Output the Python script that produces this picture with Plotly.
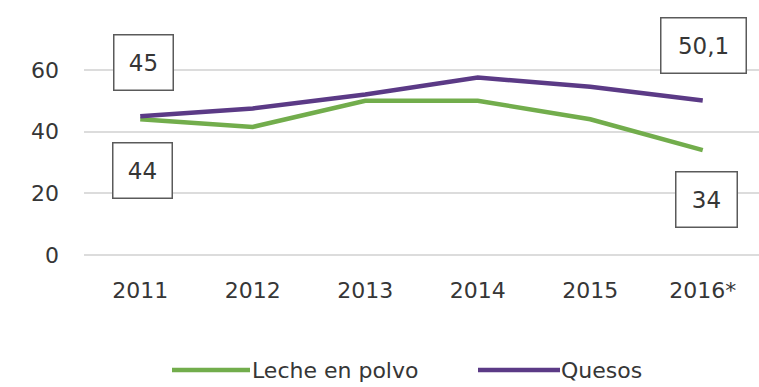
import plotly.graph_objects as go

# Data
years = ["2011", "2012", "2013", "2014", "2015", "2016*"]
leche_en_polvo = [44, 41.5, 50, 50, 44, 34]
quesos = [45, 47.5, 52, 57.5, 54.5, 50.1]
series_names = ["Leche en polvo", "Quesos"]
series_colors = ["#72ad4c", "#5b3a86"]
y_ticks = [0, 20, 40, 60]

W, H = 759, 387
M_L, M_R, M_T, M_B = 84, 0, 39, 132
TEXT = "#363636"
FONT = "DejaVu Sans"


def label(v):
    return f"{v:g}".replace(".", ",")


def px_x(px):
    return (px - M_L) / (W - M_L - M_R)


def px_y(py):
    return (H - M_B - py) / (H - M_T - M_B)


fig = go.Figure()
for name, vals, col in zip(series_names, [leche_en_polvo, quesos], series_colors):
    fig.add_trace(go.Scatter(
        x=years, y=vals, name=name, mode="lines",
        line=dict(color=col, width=4.5), showlegend=False,
    ))

# Boxed value labels at first and last year (x given as category index)
first, last = 0, len(years) - 1
box = dict(showarrow=False, bordercolor="#5a5a5a", borderwidth=1.5,
           borderpad=2, bgcolor="white", height=50,
           font=dict(family=FONT, size=23, color=TEXT))
annotations = [
    dict(x=first, y=quesos[first], text=label(quesos[first]), yshift=54, xshift=3, width=54, **box),
    dict(x=first, y=leche_en_polvo[first], text=label(leche_en_polvo[first]), yshift=-51, xshift=2, width=54, **box),
    dict(x=last, y=quesos[last], text=label(quesos[last]), yshift=55, xshift=1, width=80, **box),
    dict(x=last, y=leche_en_polvo[last], text=label(leche_en_polvo[last]), yshift=-49, xshift=4, width=56, **box),
]

# Legend drawn below the axis
shapes = []
legend_items = [(172, 250, 250), (478, 560, 559)]
for (x0, x1, tx), name, col in zip(legend_items, series_names, series_colors):
    shapes.append(dict(type="line", xref="paper", yref="paper",
                       x0=px_x(x0), x1=px_x(x1), y0=px_y(370), y1=px_y(370),
                       line=dict(color=col, width=4.5)))
    annotations.append(dict(xref="paper", yref="paper", x=px_x(tx), y=px_y(370),
                            xanchor="left", yanchor="middle", showarrow=False,
                            text=name, font=dict(family=FONT, size=22, color=TEXT)))

fig.update_layout(
    width=W, height=H,
    margin=dict(l=M_L, r=M_R, t=M_T, b=M_B),
    paper_bgcolor="white", plot_bgcolor="white",
    annotations=annotations, shapes=shapes,
    showlegend=False,
)
fig.update_xaxes(
    type="category", range=[-0.5, 5.5], showgrid=False, showline=False,
    ticks="", ticklabelstandoff=20,
    tickfont=dict(family=FONT, size=22, color=TEXT),
)
fig.update_yaxes(
    range=[0, 70], tickvals=y_ticks, showgrid=True, gridcolor="#dcdcdc",
    gridwidth=2, zeroline=True, zerolinecolor="#dcdcdc", zerolinewidth=2,
    showline=False, ticks="", ticklabelstandoff=24,
    tickfont=dict(family=FONT, size=22, color=TEXT),
)

fig.write_html("out.html")
